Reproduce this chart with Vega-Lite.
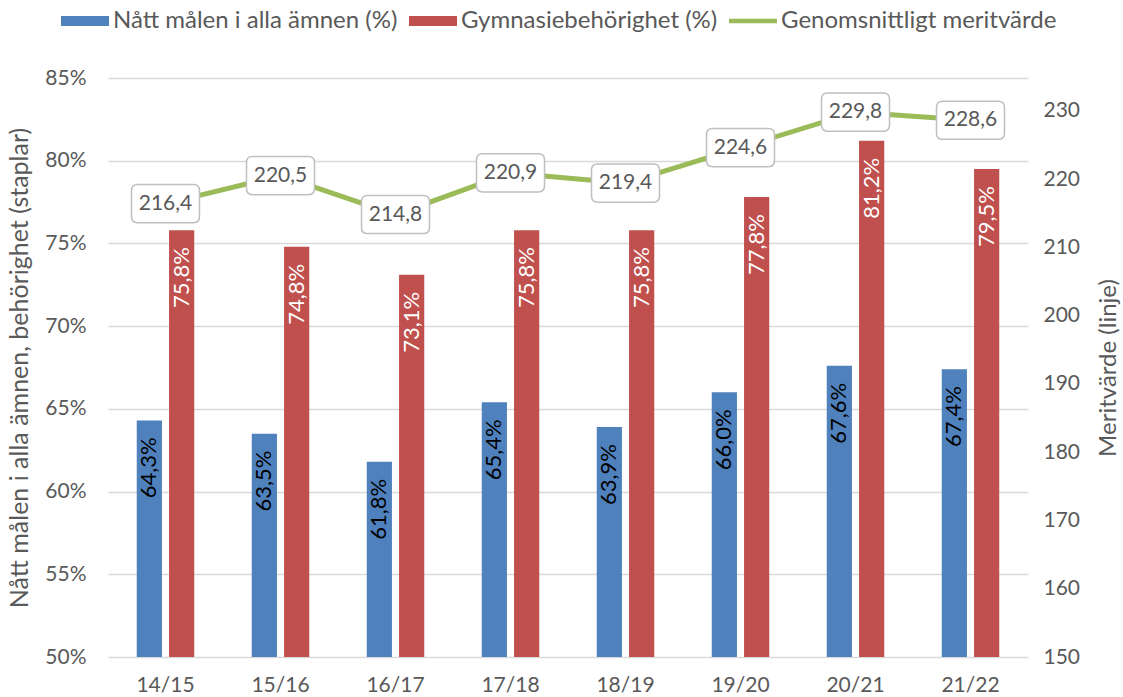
{
  "$schema": "https://vega.github.io/schema/vega-lite/v6.json",
  "autosize": {"type": "none"},
  "width": 920,
  "height": 579,
  "padding": {"left": 108, "top": 78, "right": 95, "bottom": 40},
  "background": "white",
  "config": {
    "font": "Lato",
    "view": {"stroke": null},
    "axis": {"labelFont": "Lato", "titleFont": "Lato", "labelColor": "#595959", "titleColor": "#595959", "labelFontSize": 21, "titleFontSize": 24, "titleFontWeight": "normal"}
  },
  "datasets": {
    "bars": [
      {"year": "14/15", "series": "Nått målen i alla ämnen (%)", "value": 64.3},
      {"year": "15/16", "series": "Nått målen i alla ämnen (%)", "value": 63.5},
      {"year": "16/17", "series": "Nått målen i alla ämnen (%)", "value": 61.8},
      {"year": "17/18", "series": "Nått målen i alla ämnen (%)", "value": 65.4},
      {"year": "18/19", "series": "Nått målen i alla ämnen (%)", "value": 63.9},
      {"year": "19/20", "series": "Nått målen i alla ämnen (%)", "value": 66.0},
      {"year": "20/21", "series": "Nått målen i alla ämnen (%)", "value": 67.6},
      {"year": "21/22", "series": "Nått målen i alla ämnen (%)", "value": 67.4},
      {"year": "14/15", "series": "Gymnasiebehörighet (%)", "value": 75.8},
      {"year": "15/16", "series": "Gymnasiebehörighet (%)", "value": 74.8},
      {"year": "16/17", "series": "Gymnasiebehörighet (%)", "value": 73.1},
      {"year": "17/18", "series": "Gymnasiebehörighet (%)", "value": 75.8},
      {"year": "18/19", "series": "Gymnasiebehörighet (%)", "value": 75.8},
      {"year": "19/20", "series": "Gymnasiebehörighet (%)", "value": 77.8},
      {"year": "20/21", "series": "Gymnasiebehörighet (%)", "value": 81.2},
      {"year": "21/22", "series": "Gymnasiebehörighet (%)", "value": 79.5}
    ],
    "merit": [
      {"year": "14/15", "merit": 216.4},
      {"year": "15/16", "merit": 220.5},
      {"year": "16/17", "merit": 214.8},
      {"year": "17/18", "merit": 220.9},
      {"year": "18/19", "merit": 219.4},
      {"year": "19/20", "merit": 224.6},
      {"year": "20/21", "merit": 229.8},
      {"year": "21/22", "merit": 228.6}
    ]
  },
  "encoding": {
    "x": {
      "field": "year", "type": "nominal", "sort": null,
      "scale": {"paddingInner": 0.5, "paddingOuter": 0.25},
      "axis": {"title": null, "labelAngle": 0, "ticks": false, "domain": false, "labelPadding": 17, "grid": false}
    }
  },
  "layer": [
    {
      "data": {"name": "bars"},
      "encoding": {
        "xOffset": {"field": "series", "type": "nominal", "sort": ["Nått målen i alla ämnen (%)", "Gymnasiebehörighet (%)"], "scale": {"paddingInner": 0.22, "paddingOuter": 0}},
        "y": {
          "field": "value", "type": "quantitative",
          "scale": {"domain": [50, 85], "nice": false, "zero": false},
          "axis": {"orient": "left", "title": "Nått målen i alla ämnen, behörighet (staplar)", "titleFontSize": 25, "values": [50, 55, 60, 65, 70, 75, 80, 85], "labelExpr": "datum.value + '%'", "ticks": false, "domain": false, "grid": true, "gridColor": "#d9d9d9", "gridWidth": 1.5, "labelPadding": 22, "titlePadding": 12}
        }
      },
      "layer": [
        {
          "mark": {"type": "bar", "clip": true},
          "encoding": {
            "color": {
              "field": "series", "type": "nominal",
              "scale": {"domain": ["Nått målen i alla ämnen (%)", "Gymnasiebehörighet (%)", "Genomsnittligt meritvärde"], "range": ["#4f81bd", "#c0504d", "#9bbb59"]},
              "legend": {
                "title": null, "orient": "none", "direction": "horizontal",
                "legendX": -47, "legendY": -81,
                "labelFont": "Lato", "labelFontSize": 24, "labelColor": "#595959", "labelLimit": 400,
                "symbolSize": 2304, "labelOffset": 4, "columnPadding": 11,
                "encode": {
                  "symbols": {
                    "update": {
                      "shape": {"signal": "datum.value === 'Genomsnittligt meritvärde' ? 'M-1,-0.09 L1,-0.09 L1,0.09 L-1,0.09 Z' : 'M-1,-0.21 L1,-0.21 L1,0.21 L-1,0.21 Z'"},
                      "fill": {"scale": "color", "field": "value"},
                      "stroke": {"value": "transparent"},
                      "strokeWidth": {"value": 0},
                      "opacity": {"value": 1},
                      "fillOpacity": {"value": 1}
                    }
                  }
                }
              }
            }
          }
        },
        {
          "mark": {"type": "text", "angle": 270, "align": "right", "baseline": "middle", "dx": -17, "font": "Lato", "fontSize": 22, "text": {"expr": "replace(format(datum.value, '.1f'), '.', ',') + '%'"}},
          "encoding": {
            "color": {"condition": {"test": "datum.series === 'Gymnasiebehörighet (%)'", "value": "#ffffff"}, "value": "#000000"}
          }
        }
      ]
    },
    {
      "data": {"name": "merit"},
      "encoding": {
        "y": {
          "field": "merit", "type": "quantitative",
          "scale": {"domain": [150, 234.8], "nice": false, "zero": false},
          "axis": {"orient": "right", "title": "Meritvärde (linje)", "titleAngle": 270, "titleBaseline": "top", "values": [150, 160, 170, 180, 190, 200, 210, 220, 230], "ticks": false, "domain": false, "grid": false, "labelPadding": 15, "titlePadding": 17}
        }
      },
      "layer": [
        {
          "mark": {"type": "line", "strokeWidth": 5, "strokeCap": "round", "strokeJoin": "round"},
          "encoding": {"color": {"datum": "Genomsnittligt meritvärde"}}
        },
        {
          "mark": {"type": "point", "filled": true, "fill": "#ffffff", "stroke": "#bfbfbf", "strokeWidth": 1.5, "opacity": 1, "fillOpacity": 1, "size": 4624, "shape": "M-0.82,-0.56 L0.82,-0.56 Q1,-0.56 1,-0.38 L1,0.38 Q1,0.56 0.82,0.56 L-0.82,0.56 Q-1,0.56 -1,0.38 L-1,-0.38 Q-1,-0.56 -0.82,-0.56 Z"},
          "encoding": {}
        },
        {
          "mark": {"type": "text", "font": "Lato", "fontSize": 21, "color": "#595959", "align": "center", "baseline": "middle", "text": {"expr": "replace(format(datum.merit, '.1f'), '.', ',')"}},
          "encoding": {}
        }
      ]
    }
  ],
  "resolve": {"scale": {"y": "independent"}}
}
